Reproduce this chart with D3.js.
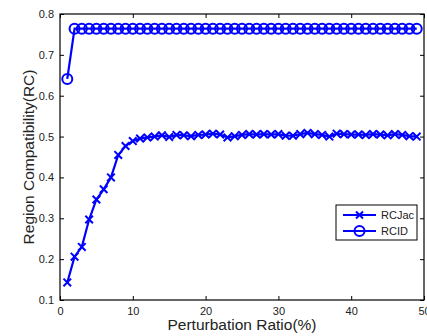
<!DOCTYPE html>
<html>
<head>
<meta charset="utf-8">
<script src="https://cdn.jsdelivr.net/npm/d3@7"></script>
<style>
  body { margin: 0; background: #fff; }
  svg { font-family: "Liberation Sans", Arial, sans-serif; }
</style>
</head>
<body>
<svg width="427" height="336"></svg>
<script>
// perturbation ratio 1..49
var ratios = d3.range(1, 50);
var rcJac = [0.143, 0.206, 0.230, 0.297, 0.346, 0.371, 0.400, 0.455, 0.477, 0.489,
  0.495, 0.498, 0.500, 0.503, 0.499, 0.504, 0.503, 0.501, 0.504, 0.505,
  0.507, 0.505, 0.498, 0.501, 0.504, 0.506, 0.505, 0.506, 0.505, 0.506,
  0.502, 0.502, 0.506, 0.509, 0.506, 0.504, 0.500, 0.507, 0.506, 0.505,
  0.505, 0.504, 0.506, 0.505, 0.503, 0.506, 0.504, 0.501, 0.500];
var rcId = [0.641, 0.764, 0.764, 0.764, 0.764, 0.764, 0.764, 0.764, 0.764, 0.764,
  0.764, 0.764, 0.764, 0.764, 0.764, 0.764, 0.764, 0.764, 0.764, 0.764,
  0.764, 0.764, 0.764, 0.764, 0.764, 0.764, 0.764, 0.764, 0.764, 0.764,
  0.764, 0.764, 0.764, 0.764, 0.764, 0.764, 0.764, 0.764, 0.764, 0.764,
  0.764, 0.764, 0.764, 0.764, 0.764, 0.764, 0.764, 0.764, 0.764];
var xTicks = [0, 10, 20, 30, 40, 50];
var yTicks = [0.1, 0.2, 0.3, 0.4, 0.5, 0.6, 0.7, 0.8];
var seriesNames = ["RCJac", "RCID"];

var blue = "#0000ff";
var margin = {top: 14, right: 3, bottom: 36, left: 60};
var width = 427 - margin.left - margin.right;
var height = 336 - margin.top - margin.bottom;

var svg = d3.select("svg");
var g = svg.append("g").attr("transform", "translate(" + margin.left + "," + margin.top + ")");

var x = d3.scaleLinear().domain([0, 50]).range([0, width]);
var y = d3.scaleLinear().domain([0.1, 0.8]).range([height, 0]);

// axes, ticks pointing inward like matlab
function styleAxis(sel) {
  sel.select(".domain").remove();
  sel.selectAll("line").attr("stroke", "#000").attr("stroke-width", 1);
  sel.selectAll("text").attr("fill", "#222").style("font-size", "11px");
}
g.append("g").attr("transform", "translate(0," + height + ")")
  .call(d3.axisBottom(x).tickValues(xTicks).tickSize(-4).tickPadding(7).tickFormat(d3.format("d")))
  .call(styleAxis);
g.append("g")
  .call(d3.axisTop(x).tickValues(xTicks).tickSize(-4).tickFormat(""))
  .call(styleAxis);
g.append("g")
  .call(d3.axisLeft(y).tickValues(yTicks).tickSize(-4).tickPadding(6).tickFormat(d3.format(".1f")))
  .call(styleAxis);
g.append("g").attr("transform", "translate(" + width + ",0)")
  .call(d3.axisRight(y).tickValues(yTicks).tickSize(-4).tickFormat(""))
  .call(styleAxis);

g.append("rect").attr("width", width).attr("height", height)
  .attr("fill", "none").attr("stroke", "#000").attr("stroke-width", 1.2);

var line = d3.line().x(function(d) { return x(d[0]); }).y(function(d) { return y(d[1]); });

var jacData = ratios.map(function(r, i) { return [r, rcJac[i]]; });
var idData = ratios.map(function(r, i) { return [r, rcId[i]]; });

g.append("path").datum(jacData).attr("d", line)
  .attr("fill", "none").attr("stroke", blue).attr("stroke-width", 2.2);
g.append("path").datum(idData).attr("d", line)
  .attr("fill", "none").attr("stroke", blue).attr("stroke-width", 2.2);

function xMark(sel, s) {
  sel.append("path")
    .attr("d", "M" + (-s) + "," + (-s) + "L" + s + "," + s + "M" + (-s) + "," + s + "L" + s + "," + (-s))
    .attr("stroke", blue).attr("stroke-width", 2).attr("fill", "none");
}

g.selectAll(".jac").data(jacData).enter().append("g")
  .attr("class", "jac")
  .attr("transform", function(d) { return "translate(" + x(d[0]) + "," + y(d[1]) + ")"; })
  .each(function() { xMark(d3.select(this), 3.8); });

g.selectAll(".rcid").data(idData).enter().append("circle")
  .attr("class", "rcid")
  .attr("cx", function(d) { return x(d[0]); })
  .attr("cy", function(d) { return y(d[1]); })
  .attr("r", 5)
  .attr("fill", "none").attr("stroke", blue).attr("stroke-width", 2);

// legend
var leg = svg.append("g").attr("transform", "translate(336,205)");
leg.append("rect").attr("width", 81).attr("height", 35)
  .attr("fill", "#fff").attr("stroke", "#000").attr("stroke-width", 1);
seriesNames.forEach(function(name, i) {
  var ly = 10 + i * 16;
  leg.append("line").attr("x1", 7).attr("x2", 40).attr("y1", ly).attr("y2", ly)
    .attr("stroke", blue).attr("stroke-width", 2.2);
  if (i === 0) {
    xMark(leg.append("g").attr("transform", "translate(23.5," + ly + ")"), 3.5);
  } else {
    leg.append("circle").attr("cx", 23.5).attr("cy", ly).attr("r", 5)
      .attr("fill", "none").attr("stroke", blue).attr("stroke-width", 2);
  }
  leg.append("text").attr("x", 45).attr("y", ly + 4)
    .style("font-size", "11px").attr("fill", "#222").text(name);
});

// axis labels
svg.append("text")
  .attr("x", margin.left + width / 2).attr("y", 330)
  .attr("text-anchor", "middle").style("font-size", "15.5px").attr("fill", "#222")
  .text("Perturbation Ratio(%)");
svg.append("text")
  .attr("transform", "translate(34," + (margin.top + height / 2) + ") rotate(-90)")
  .attr("text-anchor", "middle").style("font-size", "15.5px").attr("fill", "#222")
  .text("Region Compatibility(RC)");
</script>
</body>
</html>
